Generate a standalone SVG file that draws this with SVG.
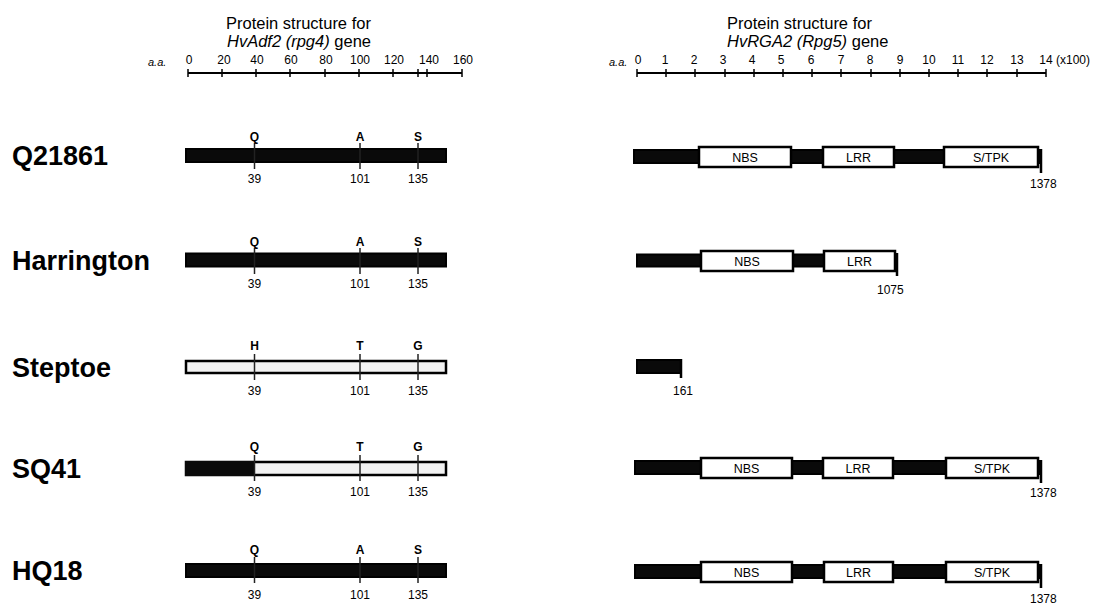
<svg xmlns="http://www.w3.org/2000/svg" width="1105" height="605" viewBox="0 0 1105 605">
<style>
text{font-family:"Liberation Sans",Arial,sans-serif;fill:#000}
.title{font-size:16.5px}
.ax{font-size:12px;text-anchor:middle}
.aa{font-size:11px;font-style:italic}
.row{font-size:27px;font-weight:bold}
.mut{font-size:12px;font-weight:bold;text-anchor:middle}
.pos{font-size:12px;text-anchor:middle}
.dom{font-size:12.5px;text-anchor:middle}
.end{font-size:12px}
.axis{stroke:#000;stroke-width:2;fill:none}
.tick{stroke:#000;stroke-width:1.5}
.blk{fill:#0a0a0a;stroke:#000;stroke-width:2}
.lgt{fill:#f2f2f2;stroke:#000;stroke-width:2.5}
.box{fill:#fff;stroke:#000;stroke-width:2.5}
.mline{stroke:#222;stroke-width:1.5}
.etick{stroke:#000;stroke-width:2.5}
</style>

<g id="titles">
<text class="title" x="226" y="29">Protein structure for</text>
<text class="title" x="227" y="47"><tspan font-style="italic">HvAdf2 (rpg4)</tspan> gene</text>
<text class="title" x="727" y="29">Protein structure for</text>
<text class="title" x="727" y="47"><tspan font-style="italic">HvRGA2 (Rpg5)</tspan> gene</text>
</g>

<g id="axis-left">
<text class="aa" x="148" y="66">a.a.</text>
<line class="axis" x1="188" y1="73" x2="462" y2="73"/>
<g class="tick">
<line x1="188" y1="69" x2="188" y2="77"/><line x1="222" y1="69" x2="222" y2="77"/><line x1="256" y1="69" x2="256" y2="77"/><line x1="290" y1="69" x2="290" y2="77"/><line x1="325" y1="69" x2="325" y2="77"/><line x1="359" y1="69" x2="359" y2="77"/><line x1="393" y1="69" x2="393" y2="77"/><line x1="418" y1="69" x2="418" y2="77"/><line x1="427" y1="69" x2="427" y2="77"/><line x1="462" y1="69" x2="462" y2="77"/>
</g>
<text class="ax" x="189" y="64">0</text><text class="ax" x="224" y="64">20</text><text class="ax" x="257" y="64">40</text><text class="ax" x="291" y="64">60</text><text class="ax" x="326" y="64">80</text><text class="ax" x="360" y="64">100</text><text class="ax" x="394" y="64">120</text><text class="ax" x="429" y="64">140</text><text class="ax" x="463" y="64">160</text>
</g>

<g id="axis-right">
<text class="aa" x="609" y="66">a.a.</text>
<line class="axis" x1="637" y1="73" x2="1046" y2="73"/>
<g class="tick">
<line x1="637" y1="69" x2="637" y2="77"/><line x1="666" y1="69" x2="666" y2="77"/><line x1="695" y1="69" x2="695" y2="77"/><line x1="725" y1="69" x2="725" y2="77"/><line x1="754" y1="69" x2="754" y2="77"/><line x1="783" y1="69" x2="783" y2="77"/><line x1="812" y1="69" x2="812" y2="77"/><line x1="841" y1="69" x2="841" y2="77"/><line x1="871" y1="69" x2="871" y2="77"/><line x1="900" y1="69" x2="900" y2="77"/><line x1="929" y1="69" x2="929" y2="77"/><line x1="958" y1="69" x2="958" y2="77"/><line x1="987" y1="69" x2="987" y2="77"/><line x1="1017" y1="69" x2="1017" y2="77"/><line x1="1046" y1="69" x2="1046" y2="77"/>
</g>
<text class="ax" x="638" y="64">0</text><text class="ax" x="665" y="64">1</text><text class="ax" x="694" y="64">2</text><text class="ax" x="723" y="64">3</text><text class="ax" x="752" y="64">4</text><text class="ax" x="781" y="64">5</text><text class="ax" x="811" y="64">6</text><text class="ax" x="841" y="64">7</text><text class="ax" x="870" y="64">8</text><text class="ax" x="900" y="64">9</text><text class="ax" x="929" y="64">10</text><text class="ax" x="958" y="64">11</text><text class="ax" x="987" y="64">12</text><text class="ax" x="1017" y="64">13</text><text class="ax" x="1046" y="64">14</text>
<text class="ax" x="1073" y="64">(x100)</text>
</g>

<g id="row-Q21861">
<text class="row" x="12" y="165">Q21861</text>
<rect class="blk" x="186" y="149" width="260" height="13"/>
<line class="mline" x1="254.5" y1="143" x2="254.5" y2="169"/><line class="mline" x1="360" y1="143" x2="360" y2="169"/><line class="mline" x1="418" y1="143" x2="418" y2="169"/>
<text class="mut" x="254.5" y="141">Q</text><text class="mut" x="360" y="141">A</text><text class="mut" x="418" y="141">S</text>
<text class="pos" x="254.5" y="183">39</text><text class="pos" x="360" y="183">101</text><text class="pos" x="418" y="183">135</text>
<rect class="blk" x="634" y="150" width="406" height="13"/>
<rect class="box" x="699" y="147" width="92" height="20"/><text class="dom" x="745" y="161.5">NBS</text>
<rect class="box" x="823" y="147" width="71" height="20"/><text class="dom" x="858.5" y="161.5">LRR</text>
<rect class="box" x="944" y="147" width="94" height="20"/><text class="dom" x="991" y="161.5">S/TPK</text>
<line class="etick" x1="1041" y1="149" x2="1041" y2="173"/>
<text class="end" x="1030" y="188">1378</text>
</g>

<g id="row-Harrington">
<text class="row" x="12" y="270">Harrington</text>
<rect class="blk" x="186" y="253.5" width="260" height="13"/>
<line class="mline" x1="254.5" y1="248" x2="254.5" y2="274"/><line class="mline" x1="360" y1="248" x2="360" y2="274"/><line class="mline" x1="418" y1="248" x2="418" y2="274"/>
<text class="mut" x="254.5" y="246">Q</text><text class="mut" x="360" y="246">A</text><text class="mut" x="418" y="246">S</text>
<text class="pos" x="254.5" y="288">39</text><text class="pos" x="360" y="288">101</text><text class="pos" x="418" y="288">135</text>
<rect class="blk" x="637" y="254.5" width="260" height="12"/>
<rect class="box" x="701" y="251" width="92" height="20"/><text class="dom" x="747" y="265.5">NBS</text>
<rect class="box" x="824" y="251" width="71" height="20"/><text class="dom" x="859.5" y="265.5">LRR</text>
<line class="etick" x1="897" y1="253" x2="897" y2="276"/>
<text class="end" x="877" y="294">1075</text>
</g>

<g id="row-Steptoe">
<text class="row" x="12" y="377">Steptoe</text>
<rect class="lgt" x="186" y="361" width="260" height="12"/>
<line class="mline" x1="254.5" y1="354" x2="254.5" y2="380"/><line class="mline" x1="360" y1="354" x2="360" y2="380"/><line class="mline" x1="418" y1="354" x2="418" y2="380"/>
<text class="mut" x="254.5" y="350">H</text><text class="mut" x="360" y="350">T</text><text class="mut" x="418" y="350">G</text>
<text class="pos" x="254.5" y="395">39</text><text class="pos" x="360" y="395">101</text><text class="pos" x="418" y="395">135</text>
<rect class="blk" x="637" y="360" width="44" height="13"/>
<line class="etick" x1="681" y1="359" x2="681" y2="378"/>
<text class="end" x="673" y="395">161</text>
</g>

<g id="row-SQ41">
<text class="row" x="12" y="478">SQ41</text>
<rect class="lgt" x="186" y="462" width="260" height="13"/>
<rect x="185" y="461" width="69.5" height="15" fill="#0a0a0a"/>
<line class="mline" x1="254.5" y1="455" x2="254.5" y2="481"/><line class="mline" x1="360" y1="455" x2="360" y2="481"/><line class="mline" x1="418" y1="455" x2="418" y2="481"/>
<text class="mut" x="254.5" y="451">Q</text><text class="mut" x="360" y="451">T</text><text class="mut" x="418" y="451">G</text>
<text class="pos" x="254.5" y="496">39</text><text class="pos" x="360" y="496">101</text><text class="pos" x="418" y="496">135</text>
<rect class="blk" x="635" y="461" width="405" height="13"/>
<rect class="box" x="701" y="458" width="91" height="20"/><text class="dom" x="746.5" y="472.5">NBS</text>
<rect class="box" x="823" y="458" width="70" height="20"/><text class="dom" x="858" y="472.5">LRR</text>
<rect class="box" x="946" y="458" width="92" height="20"/><text class="dom" x="992" y="472.5">S/TPK</text>
<line class="etick" x1="1041" y1="460" x2="1041" y2="483"/>
<text class="end" x="1030" y="497">1378</text>
</g>

<g id="row-HQ18">
<text class="row" x="12" y="580">HQ18</text>
<rect class="blk" x="186" y="564" width="260" height="13"/>
<line class="mline" x1="254.5" y1="557" x2="254.5" y2="583"/><line class="mline" x1="360" y1="557" x2="360" y2="583"/><line class="mline" x1="418" y1="557" x2="418" y2="583"/>
<text class="mut" x="254.5" y="554">Q</text><text class="mut" x="360" y="554">A</text><text class="mut" x="418" y="554">S</text>
<text class="pos" x="254.5" y="599">39</text><text class="pos" x="360" y="599">101</text><text class="pos" x="418" y="599">135</text>
<rect class="blk" x="635" y="565" width="405" height="13"/>
<rect class="box" x="701" y="562" width="91" height="20"/><text class="dom" x="746.5" y="576.5">NBS</text>
<rect class="box" x="824" y="562" width="69" height="20"/><text class="dom" x="858.5" y="576.5">LRR</text>
<rect class="box" x="946" y="562" width="92" height="20"/><text class="dom" x="992" y="576.5">S/TPK</text>
<line class="etick" x1="1041" y1="564" x2="1041" y2="588"/>
<text class="end" x="1030" y="603">1378</text>
</g>
</svg>
